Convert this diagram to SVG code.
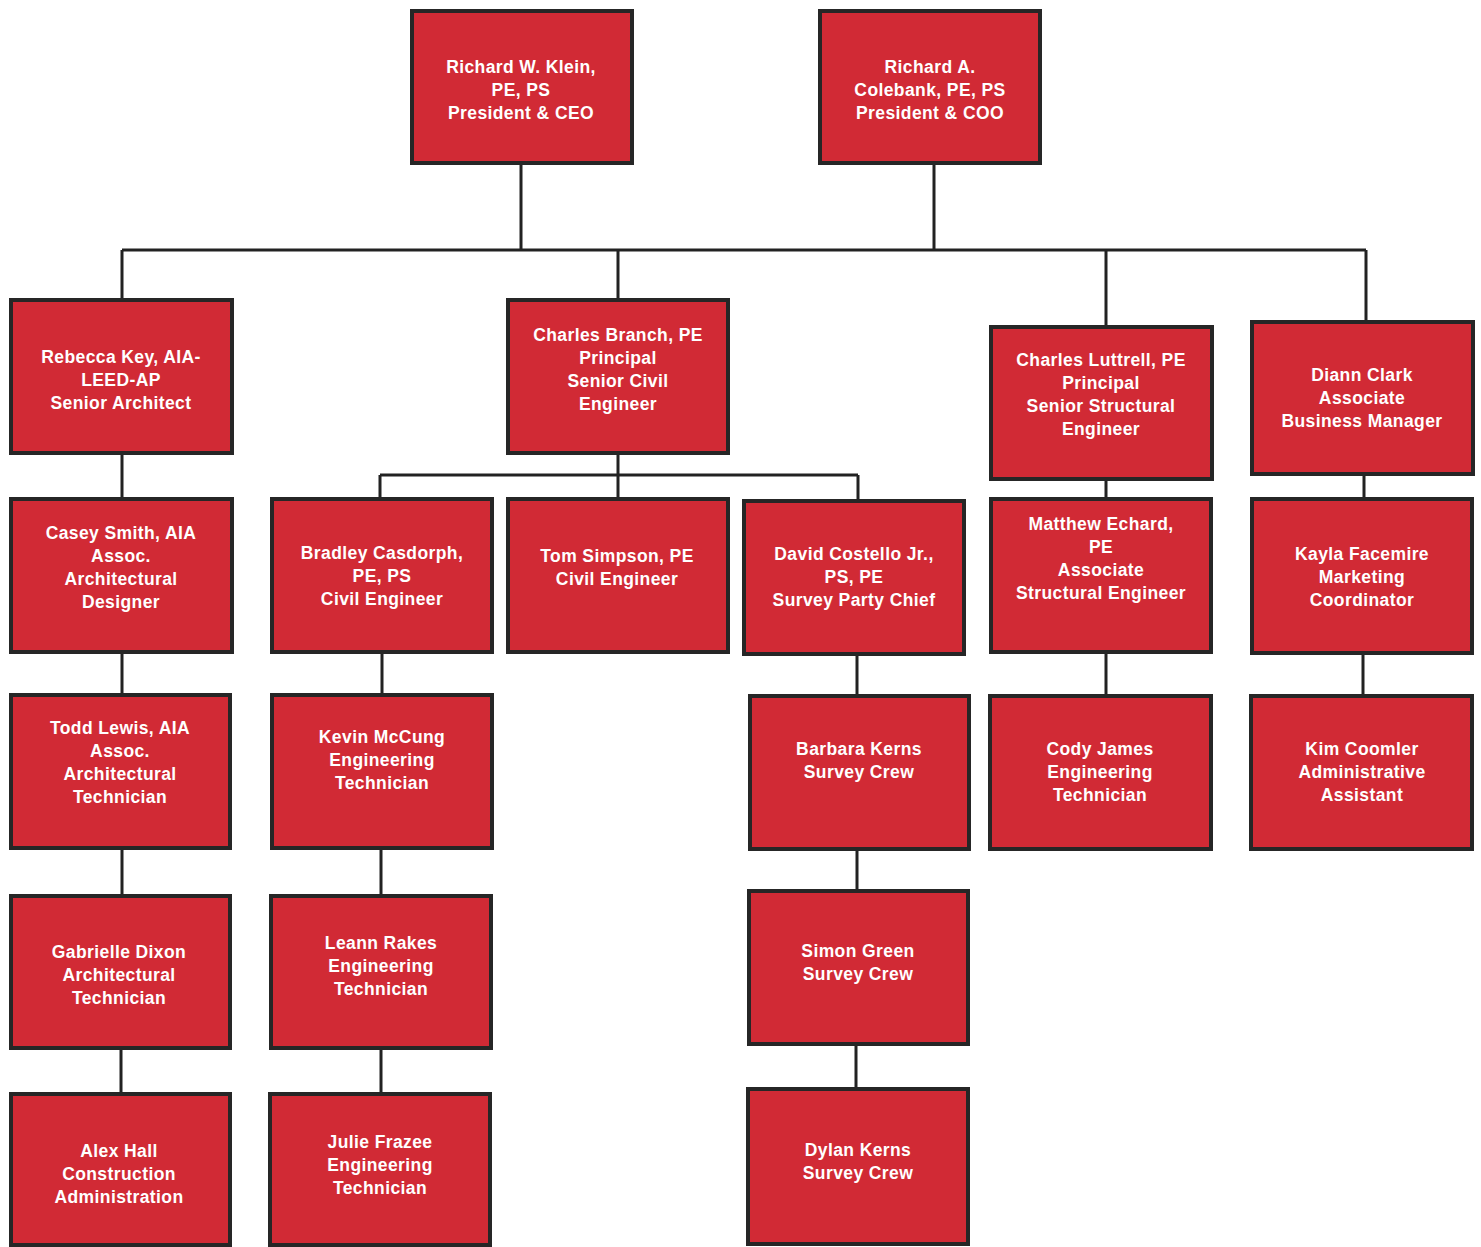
<svg xmlns="http://www.w3.org/2000/svg" width="1481" height="1247" viewBox="0 0 1481 1247">
<style>
.box{fill:#d12a35;stroke:#262626;stroke-width:4}
.t{font-family:"Liberation Sans",Arial,sans-serif;font-weight:bold;font-size:17.5px;letter-spacing:0.4px;fill:#ffffff;text-anchor:middle;dominant-baseline:central}
.c{stroke:#222222;stroke-width:3;fill:none}
</style>
<rect width="1481" height="1247" fill="#ffffff"/>
<g id="connectors">
<path class="c" d="M521 165V250M934 165V250M122 250H1366M122 250V298M618 250V298M1106 250V325M1366 250V320"/>
<path class="c" d="M122 455V497M122 654V693M122 850V894M121 1050V1092"/>
<path class="c" d="M618 455V475M380 475H858M380 475V497M618 475V497M858 475V499"/>
<path class="c" d="M382 654V693M381 850V894M381 1050V1092"/>
<path class="c" d="M857 656V694M857 851V889M856 1046V1087"/>
<path class="c" d="M1106 481V497M1106 654V694M1364 476V497M1363 655V694"/>
</g>
<g id="klein"><rect class="box" x="412" y="11" width="220" height="152"/><text class="t" x="521" y="67">Richard W. Klein,</text><text class="t" x="521" y="90">PE, PS</text><text class="t" x="521" y="113">President &amp; CEO</text></g>
<g id="colebank"><rect class="box" x="820" y="11" width="220" height="152"/><text class="t" x="930" y="67">Richard A.</text><text class="t" x="930" y="90">Colebank, PE, PS</text><text class="t" x="930" y="113">President &amp; COO</text></g>
<g id="rebecca"><rect class="box" x="11" y="300" width="221" height="153"/><text class="t" x="121" y="357">Rebecca Key, AIA-</text><text class="t" x="121" y="380">LEED-AP</text><text class="t" x="121" y="403">Senior Architect</text></g>
<g id="branch"><rect class="box" x="508" y="300" width="220" height="153"/><text class="t" x="618" y="335">Charles Branch, PE</text><text class="t" x="618" y="358">Principal</text><text class="t" x="618" y="381">Senior Civil</text><text class="t" x="618" y="404">Engineer</text></g>
<g id="luttrell"><rect class="box" x="991" y="327" width="221" height="152"/><text class="t" x="1101" y="360">Charles Luttrell, PE</text><text class="t" x="1101" y="383">Principal</text><text class="t" x="1101" y="406">Senior Structural</text><text class="t" x="1101" y="429">Engineer</text></g>
<g id="clark"><rect class="box" x="1252" y="322" width="221" height="152"/><text class="t" x="1362" y="375">Diann Clark</text><text class="t" x="1362" y="398">Associate</text><text class="t" x="1362" y="421">Business Manager</text></g>
<g id="casey"><rect class="box" x="11" y="499" width="221" height="153"/><text class="t" x="121" y="533">Casey Smith, AIA</text><text class="t" x="121" y="556">Assoc.</text><text class="t" x="121" y="579">Architectural</text><text class="t" x="121" y="602">Designer</text></g>
<g id="bradley"><rect class="box" x="272" y="499" width="220" height="153"/><text class="t" x="382" y="553">Bradley Casdorph,</text><text class="t" x="382" y="576">PE, PS</text><text class="t" x="382" y="599">Civil Engineer</text></g>
<g id="tom"><rect class="box" x="508" y="499" width="220" height="153"/><text class="t" x="617" y="556">Tom Simpson, PE</text><text class="t" x="617" y="579">Civil Engineer</text></g>
<g id="david"><rect class="box" x="744" y="501" width="220" height="153"/><text class="t" x="854" y="554">David Costello Jr.,</text><text class="t" x="854" y="577">PS, PE</text><text class="t" x="854" y="600">Survey Party Chief</text></g>
<g id="matthew"><rect class="box" x="991" y="499" width="220" height="153"/><text class="t" x="1101" y="524">Matthew Echard,</text><text class="t" x="1101" y="547">PE</text><text class="t" x="1101" y="570">Associate</text><text class="t" x="1101" y="593">Structural Engineer</text></g>
<g id="kayla"><rect class="box" x="1252" y="499" width="220" height="154"/><text class="t" x="1362" y="554">Kayla Facemire</text><text class="t" x="1362" y="577">Marketing</text><text class="t" x="1362" y="600">Coordinator</text></g>
<g id="todd"><rect class="box" x="11" y="695" width="219" height="153"/><text class="t" x="120" y="728">Todd Lewis, AIA</text><text class="t" x="120" y="751">Assoc.</text><text class="t" x="120" y="774">Architectural</text><text class="t" x="120" y="797">Technician</text></g>
<g id="kevin"><rect class="box" x="272" y="695" width="220" height="153"/><text class="t" x="382" y="737">Kevin McCung</text><text class="t" x="382" y="760">Engineering</text><text class="t" x="382" y="783">Technician</text></g>
<g id="barbara"><rect class="box" x="750" y="696" width="219" height="153"/><text class="t" x="859" y="749">Barbara Kerns</text><text class="t" x="859" y="772">Survey Crew</text></g>
<g id="cody"><rect class="box" x="990" y="696" width="221" height="153"/><text class="t" x="1100" y="749">Cody James</text><text class="t" x="1100" y="772">Engineering</text><text class="t" x="1100" y="795">Technician</text></g>
<g id="kim"><rect class="box" x="1251" y="696" width="221" height="153"/><text class="t" x="1362" y="749">Kim Coomler</text><text class="t" x="1362" y="772">Administrative</text><text class="t" x="1362" y="795">Assistant</text></g>
<g id="gabrielle"><rect class="box" x="11" y="896" width="219" height="152"/><text class="t" x="119" y="952">Gabrielle Dixon</text><text class="t" x="119" y="975">Architectural</text><text class="t" x="119" y="998">Technician</text></g>
<g id="leann"><rect class="box" x="271" y="896" width="220" height="152"/><text class="t" x="381" y="943">Leann Rakes</text><text class="t" x="381" y="966">Engineering</text><text class="t" x="381" y="989">Technician</text></g>
<g id="simon"><rect class="box" x="749" y="891" width="219" height="153"/><text class="t" x="858" y="951">Simon Green</text><text class="t" x="858" y="974">Survey Crew</text></g>
<g id="alex"><rect class="box" x="11" y="1094" width="219" height="151"/><text class="t" x="119" y="1151">Alex Hall</text><text class="t" x="119" y="1174">Construction</text><text class="t" x="119" y="1197">Administration</text></g>
<g id="julie"><rect class="box" x="270" y="1094" width="220" height="151"/><text class="t" x="380" y="1142">Julie Frazee</text><text class="t" x="380" y="1165">Engineering</text><text class="t" x="380" y="1188">Technician</text></g>
<g id="dylan"><rect class="box" x="748" y="1089" width="220" height="155"/><text class="t" x="858" y="1150">Dylan Kerns</text><text class="t" x="858" y="1173">Survey Crew</text></g>
</svg>
